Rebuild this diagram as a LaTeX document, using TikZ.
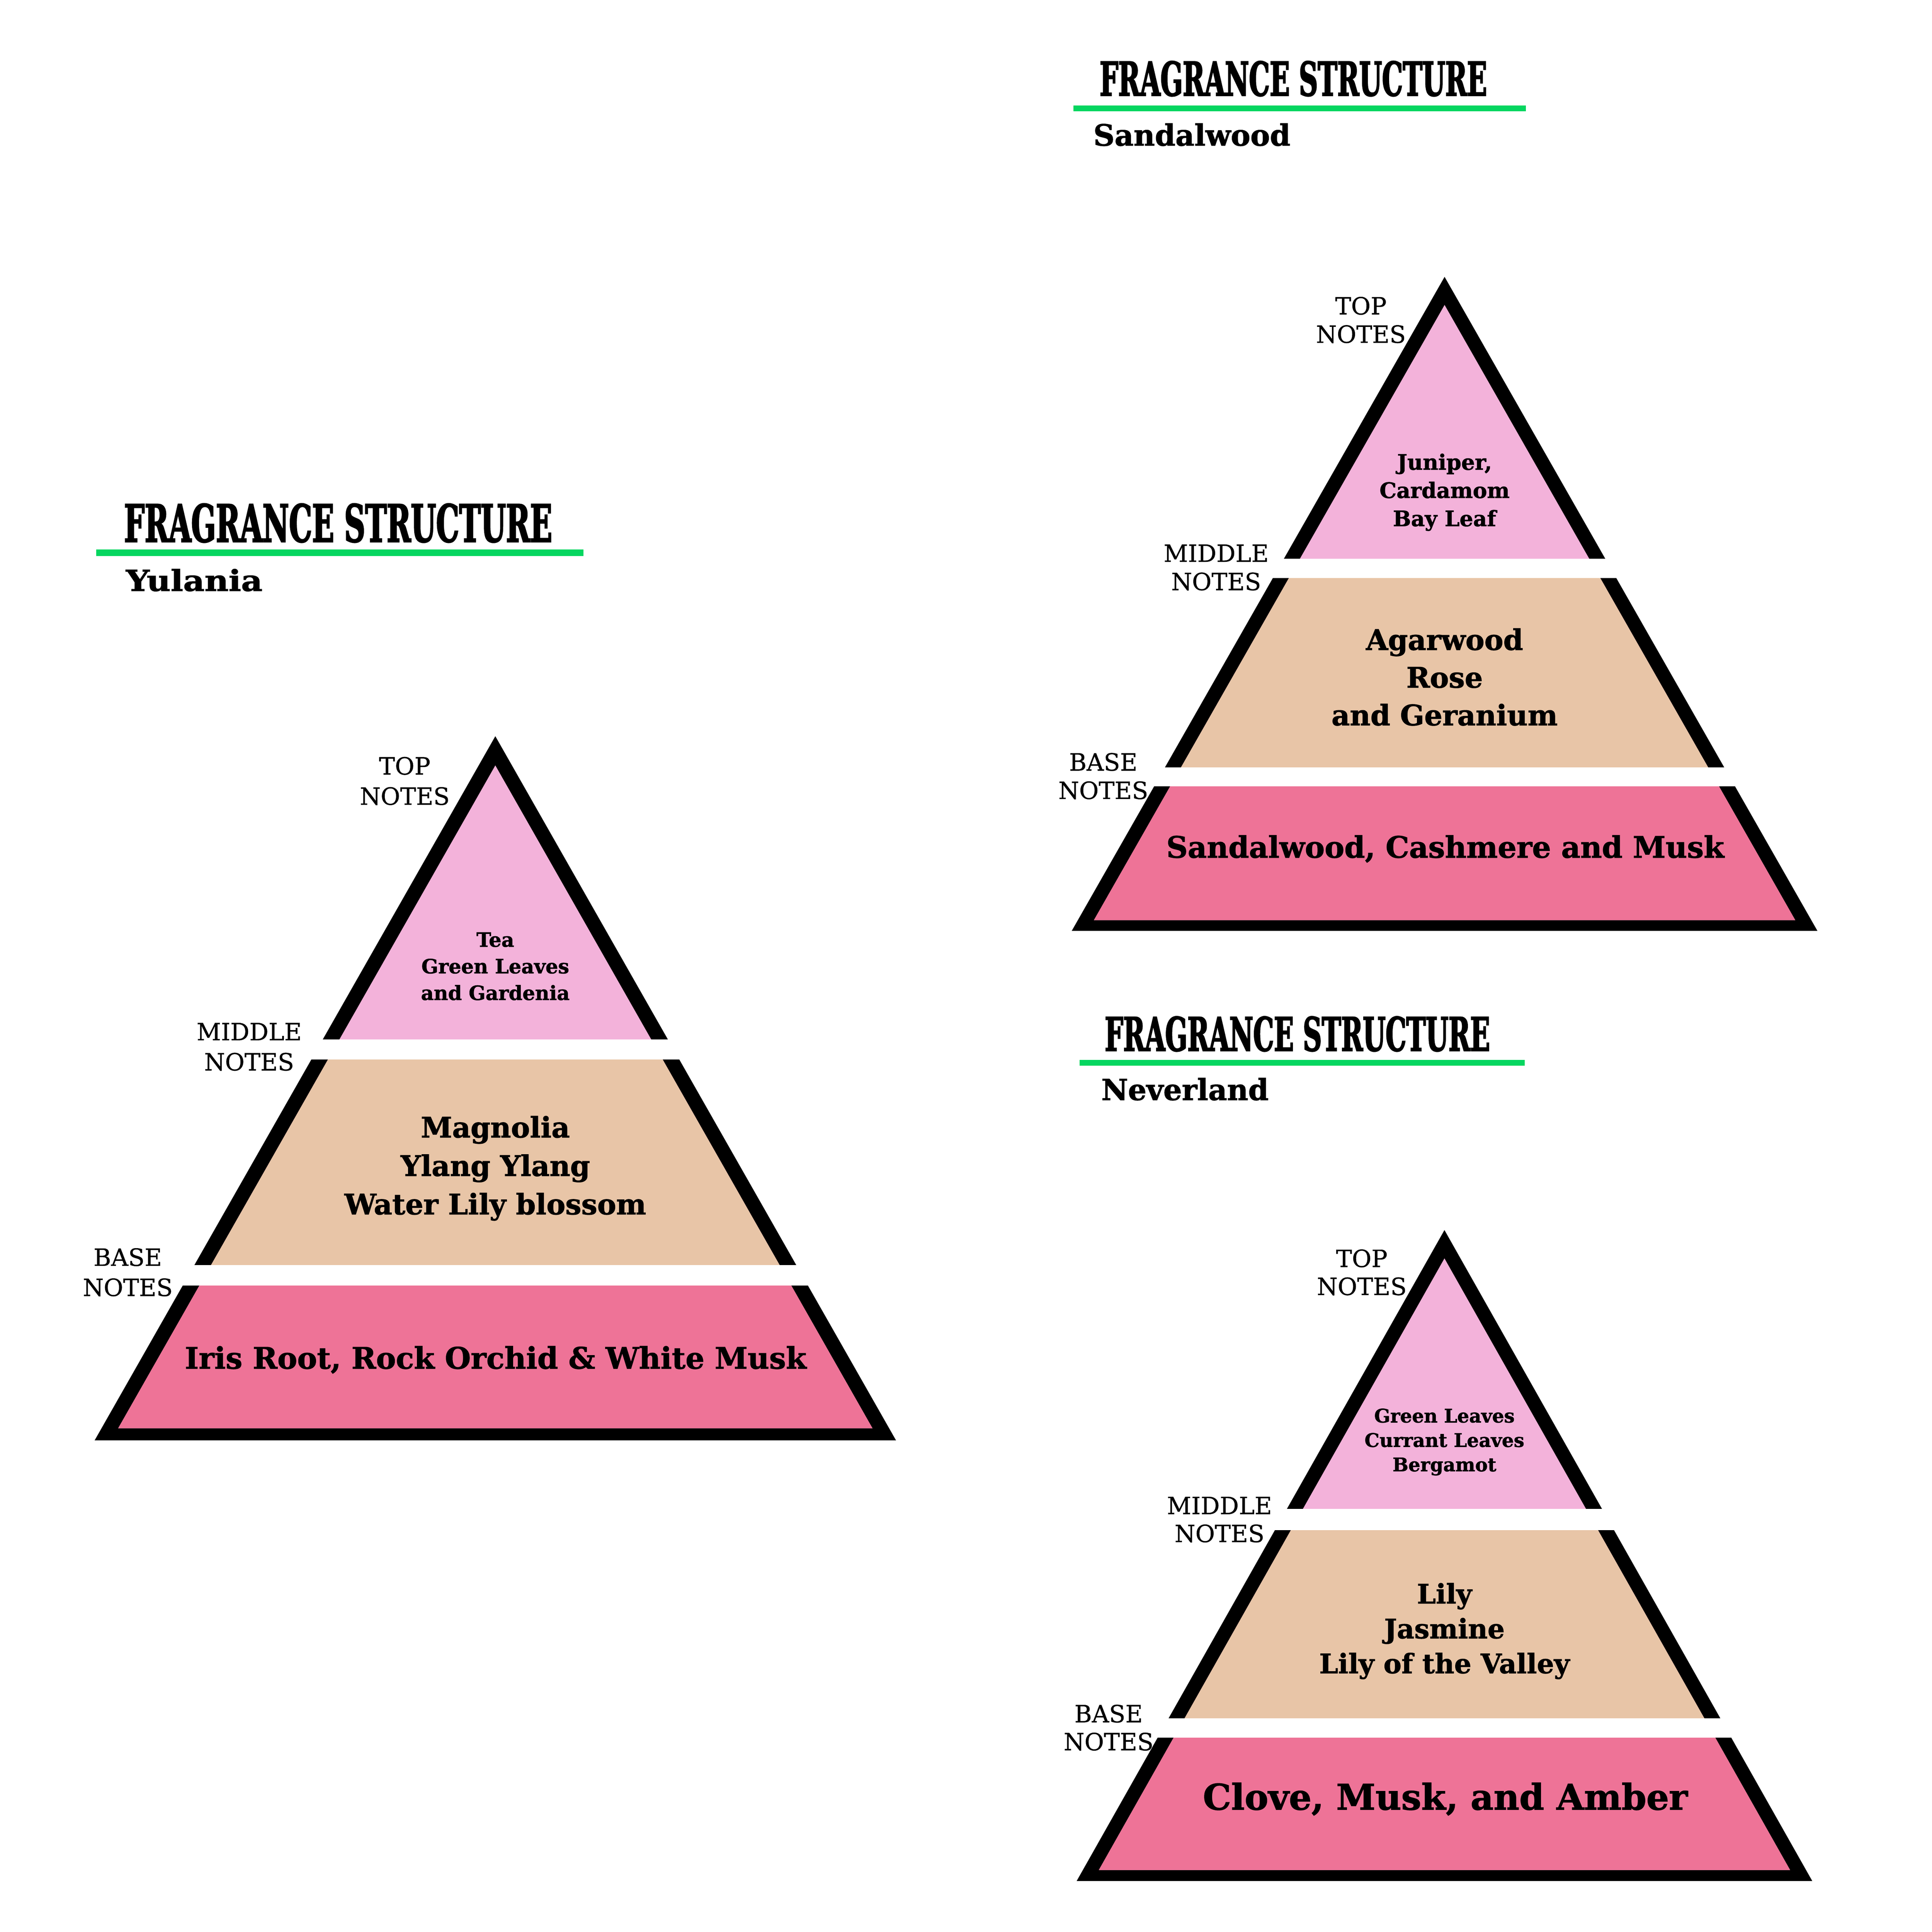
\documentclass[tikz,border=0pt]{standalone}
\usepackage{fontspec}
\setmainfont{DejaVu Serif}[BoldFeatures={FakeBold=1.5}]
\newfontfamily\titlefont{DejaVu Serif}[FakeStretch=0.56, BoldFeatures={FakeBold=2}]
\newfontfamily\labelfont{DejaVu Serif}[FakeBold=0.7]
\usepackage{tikz}
\usetikzlibrary{positioning}

\definecolor{topnote}{RGB}{243,178,218}
\definecolor{midnote}{RGB}{232,197,167}
\definecolor{basenote}{RGB}{238,115,151}
\definecolor{rulegreen}{RGB}{6,214,96}

\tikzset{
  heading/.style={anchor=base west, inner sep=0pt},
  notelabel/.style={anchor=north, align=center, inner sep=0pt},
  notetext/.style={anchor=north, align=center, inner sep=0pt},
}

\begin{document}
\begin{tikzpicture}[x=1pt,y=1pt,yscale=-1,xscale=1]
\useasboundingbox (0,0) rectangle (1568,1568);

%%% Yulania
%Shape: Triangle [outer]
\fill [black] (402,597.5) -- (76.8,1169) -- (727.2,1169) -- cycle ;
%Shape: Triangle [inner]
\fill [topnote] (402,621.2) -- (95.9,1159.2) -- (708.1,1159.2) -- cycle ;
\begin{scope}
\clip (402,621.2) -- (95.9,1159.2) -- (708.1,1159.2) -- cycle ;
\fill [midnote] (60,850) rectangle (750,1035) ;
\fill [basenote] (60,1035) rectangle (750,1175) ;
\end{scope}
%Shape: Rectangle [gaps]
\fill [white] (60,843.5) rectangle (750,860) ;
\fill [white] (60,1026.7) rectangle (750,1043.4) ;
%Straight Lines
\draw [rulegreen, line width=5.5] (78.2,448.6) -- (473.6,448.6) ;
% Text Node
\node [heading, font={\titlefont\bfseries\fontsize{42}{42}\selectfont}] (ytitle) at (100.5,439.8) {FRAGRANCE STRUCTURE};
\node [heading, font={\bfseries\fontsize{23.5}{23.5}\selectfont}] (yname) at (102,479.6) {\scalebox{1.14}[1]{Yulania}};
\node [notelabel, font={\labelfont\fontsize{19.3}{24.5}\selectfont}] (ytop) at (328.5,614.1) {TOP\\NOTES};
\node [notelabel, font={\labelfont\fontsize{19.3}{24.5}\selectfont}] (ymid) at (202.2,830) {MIDDLE\\NOTES};
\node [notelabel, font={\labelfont\fontsize{19.3}{24.5}\selectfont}] (ybase) at (103.7,1012.8) {BASE\\NOTES};
\node [notetext, font={\bfseries\fontsize{16}{21.6}\selectfont}] (ytopnote) at (402,756.5) {Tea\\Green Leaves\\and Gardenia};
\node [notetext, font={\bfseries\fontsize{23}{31.2}\selectfont}] (ymidnote) at (402,905.5) {Magnolia\\Ylang Ylang\\Water Lily blossom};
\node [anchor=base, inner sep=0pt, font={\bfseries\fontsize{24.1}{24.1}\selectfont}] (ybasenote) at (402.3,1110.8) {Iris Root, Rock Orchid \& White Musk};

%%% Sandalwood
%Shape: Triangle [outer]
\fill [black] (1172.4,224.7) -- (869.8,755.5) -- (1475,755.5) -- cycle ;
%Shape: Triangle [inner]
\fill [topnote] (1172.4,247.5) -- (887.8,746.8) -- (1457,746.8) -- cycle ;
\begin{scope}
\clip (1172.4,247.5) -- (887.8,746.8) -- (1457,746.8) -- cycle ;
\fill [midnote] (850,460) rectangle (1495,630) ;
\fill [basenote] (850,630) rectangle (1495,760) ;
\end{scope}
%Shape: Rectangle [gaps]
\fill [white] (850,453.6) rectangle (1495,469.2) ;
\fill [white] (850,622.7) rectangle (1495,638.3) ;
%Straight Lines
\draw [rulegreen, line width=4.8] (871.3,87.9) -- (1238.3,87.9) ;
% Text Node
\node [heading, font={\titlefont\bfseries\fontsize{38}{38}\selectfont}] (stitle) at (892.3,77.7) {FRAGRANCE STRUCTURE};
\node [heading, font={\bfseries\fontsize{23.8}{23.8}\selectfont}] (sname) at (887.2,118.2) {Sandalwood};
\node [notelabel, font={\labelfont\fontsize{19.3}{23}\selectfont}] (stop) at (1104.5,240.7) {TOP\\NOTES};
\node [notelabel, font={\labelfont\fontsize{19.3}{23}\selectfont}] (smid) at (987,441.7) {MIDDLE\\NOTES};
\node [notelabel, font={\labelfont\fontsize{19.3}{23}\selectfont}] (sbase) at (895.4,610.9) {BASE\\NOTES};
\node [notetext, font={\bfseries\fontsize{17.3}{22.9}\selectfont}] (stopnote) at (1172.4,367.9) {Juniper,\\Cardamom\\Bay Leaf};
\node [notetext, font={\bfseries\fontsize{23}{30.6}\selectfont}] (smidnote) at (1172.4,509.8) {Agarwood\\Rose\\and Geranium};
\node [anchor=base, inner sep=0pt, font={\bfseries\fontsize{24}{24}\selectfont}] (sbasenote) at (1173,696.1) {Sandalwood, Cashmere and Musk};

%%% Neverland
%Shape: Triangle [outer]
\fill [black] (1172.3,998.3) -- (873.8,1526.6) -- (1470.8,1526.6) -- cycle ;
%Shape: Triangle [inner]
\fill [topnote] (1172.3,1021.3) -- (891.8,1517.7) -- (1452.8,1517.7) -- cycle ;
\begin{scope}
\clip (1172.3,1021.3) -- (891.8,1517.7) -- (1452.8,1517.7) -- cycle ;
\fill [midnote] (850,1230) rectangle (1495,1400) ;
\fill [basenote] (850,1400) rectangle (1495,1530) ;
\end{scope}
%Shape: Rectangle [gaps]
\fill [white] (850,1224.5) rectangle (1495,1241.7) ;
\fill [white] (850,1394.7) rectangle (1495,1410.3) ;
%Straight Lines
\draw [rulegreen, line width=4.5] (876.1,862.6) -- (1237.4,862.6) ;
% Text Node
\node [heading, font={\titlefont\bfseries\fontsize{37.8}{37.8}\selectfont}] (ntitle) at (896.4,852.9) {FRAGRANCE STRUCTURE};
\node [heading, font={\bfseries\fontsize{23.6}{23.6}\selectfont}] (nname) at (893.7,892.8) {Neverland};
\node [notelabel, font={\labelfont\fontsize{19.3}{22.7}\selectfont}] (ntop) at (1105.2,1013.8) {TOP\\NOTES};
\node [notelabel, font={\labelfont\fontsize{19.3}{22.7}\selectfont}] (nmid) at (989.7,1214.6) {MIDDLE\\NOTES};
\node [notelabel, font={\labelfont\fontsize{19.3}{22.7}\selectfont}] (nbase) at (899.7,1383.3) {BASE\\NOTES};
\node [notetext, font={\bfseries\fontsize{15.2}{19.8}\selectfont}] (ntopnote) at (1172.3,1143) {Green Leaves\\Currant Leaves\\Bergamot};
\node [notetext, font={\bfseries\fontsize{21.8}{28.3}\selectfont}] (nmidnote) at (1172.3,1284.6) {Lily\\Jasmine\\Lily of the Valley};
\node [anchor=base, inner sep=0pt, font={\bfseries\fontsize{28.8}{28.8}\selectfont}] (nbasenote) at (1173,1468.7) {Clove, Musk, and Amber};
\end{tikzpicture}
\end{document}
